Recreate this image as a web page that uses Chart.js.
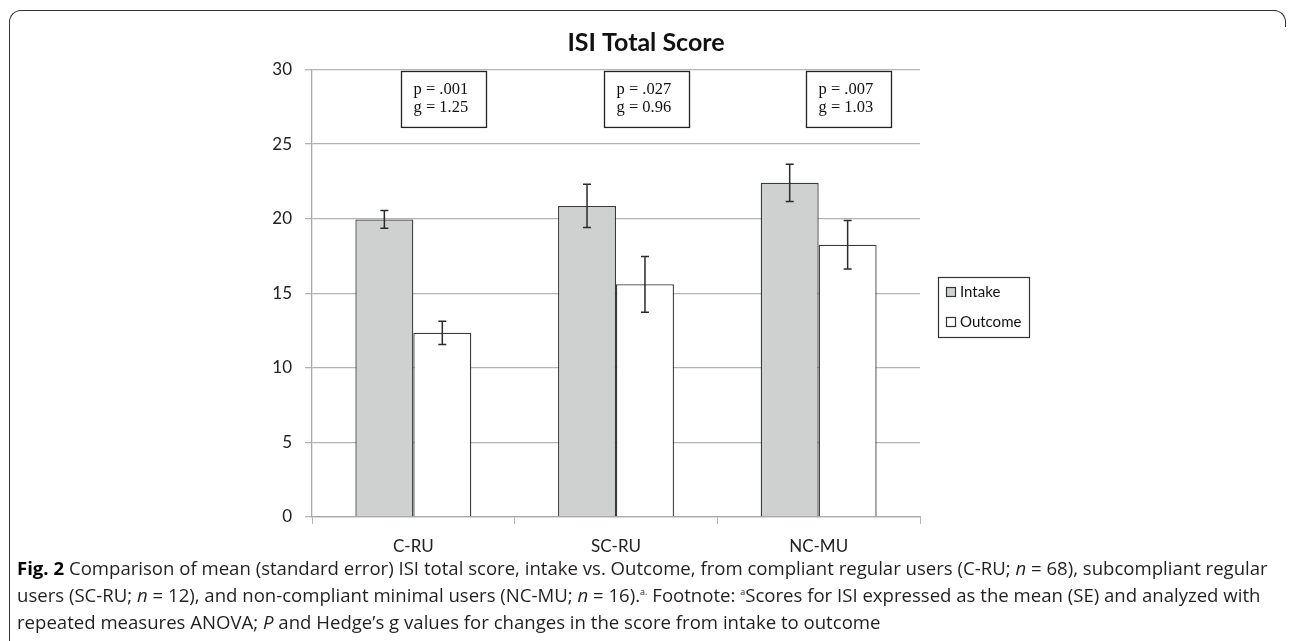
<!DOCTYPE html>
<html>
<head>
<meta charset="utf-8">
<script src="https://cdn.jsdelivr.net/npm/chart.js@4/dist/chart.umd.min.js"></script>
<style>
    html, body {margin: 0; padding: 0; background: #fff;}
    body {width: 1292px; height: 641px; position: relative; overflow: hidden;}
    #frame {position: absolute; left: 9px; top: 10px; width: 1266px; height: 700px;
        border-top: 1.5px solid #333; border-left: 1.5px solid #333; border-top-left-radius: 12px;}
    #corner {position: absolute; left: 1271px; top: 10px; width: 14px; height: 16px;
        border-top: 1.5px solid #333; border-right: 1.5px solid #333; border-top-right-radius: 12px;}
    #chart {position: absolute; left: 0; top: 0;}
    #caption {position: absolute; left: 17px; top: 554px; font-family: "Open Sans", sans-serif;
        font-size: 15.5px; color: #231f20; white-space: nowrap;}
    #caption div {line-height: 27px; height: 27px;}
    #caption b {color: #000;}
    #caption sup {font-size: 9px; line-height: 0;}
</style>
</head>
<body>
<div id="frame"></div>
<div id="corner"></div>
<canvas id="chart" width="1292" height="560"></canvas>
<div id="caption">
    <div id="line1"><b>Fig. 2</b> Comparison of mean (standard error) ISI total score, intake vs. Outcome, from compliant regular users (C-RU; <i>n</i> = 68), subcompliant regular</div>
    <div>users (SC-RU; <i>n</i> = 12), and non-compliant minimal users (NC-MU; <i>n</i> = 16).<sup>a.</sup> Footnote: <sup>a</sup>Scores for ISI expressed as the mean (SE) and analyzed with</div>
    <div>repeated measures ANOVA; <i>P</i> and Hedge’s g values for changes in the score from intake to outcome</div>
</div>
<script>
    const categories = ['C-RU', 'SC-RU', 'NC-MU'];
    const seriesNames = ['Intake', 'Outcome'];
    const intakeValues = [19.95, 20.85, 22.4];
    const intakeErrors = [0.6, 1.45, 1.25];
    const outcomeValues = [12.35, 15.6, 18.25];
    const outcomeErrors = [0.78, 1.87, 1.62];
    const pValues = ['.001', '.027', '.007'];
    const gValues = ['1.25', '0.96', '1.03'];
    const yTicks = [0, 5, 10, 15, 20, 25, 30];

    const INTAKE_FILL = '#cfd1d0';
    const OUTCOME_FILL = '#ffffff';
    const BAR_EDGE = '#3a3a3a';
    const GRID = '#b4b4b4';
    const CHART_FONT = 'Lato, "Open Sans", sans-serif';

    // fit caption width to the reference (first line ends near x=1268)
    const line1 = document.getElementById('line1');
    const cap = document.getElementById('caption');
    const w = line1.scrollWidth;
    if (w > 0) {
        cap.style.fontSize = (15.5 * 1251 / w).toFixed(2) + 'px';
    }

    const errorBars = {
        id: 'errorBars',
        afterDatasetsDraw(chart) {
            const ctx = chart.ctx;
            const y = chart.scales.y;
            const errs = [intakeErrors, outcomeErrors];
            ctx.save();
            ctx.strokeStyle = '#2b2b2b';
            ctx.lineWidth = 1.5;
            chart.data.datasets.forEach((ds, i) => {
                chart.getDatasetMeta(i).data.forEach((bar, j) => {
                    const v = ds.data[j];
                    const top = y.getPixelForValue(v + errs[i][j]);
                    const bot = y.getPixelForValue(v - errs[i][j]);
                    ctx.beginPath();
                    ctx.moveTo(bar.x, top);
                    ctx.lineTo(bar.x, bot);
                    ctx.moveTo(bar.x - 4, top);
                    ctx.lineTo(bar.x + 4, top);
                    ctx.moveTo(bar.x - 4, bot);
                    ctx.lineTo(bar.x + 4, bot);
                    ctx.stroke();
                });
            });
            ctx.restore();
        }
    };

    const statBoxes = {
        id: 'statBoxes',
        afterDraw(chart) {
            const ctx = chart.ctx;
            const x = chart.scales.x;
            const y = chart.scales.y;
            const top = y.getPixelForValue(29.9);
            const bot = y.getPixelForValue(26.15);
            ctx.save();
            categories.forEach((c, i) => {
                const cx = x.getPixelForValue(i) + 30;
                const left = Math.round(cx - 42.5) + 0.5;
                ctx.fillStyle = '#fff';
                ctx.fillRect(left, Math.round(top) + 0.5, 85, bot - top);
                ctx.strokeStyle = '#222';
                ctx.lineWidth = 1.3;
                ctx.strokeRect(left, Math.round(top) + 0.5, 85, bot - top);
                ctx.fillStyle = '#111';
                ctx.font = '16.5px "Liberation Serif", "Times New Roman", serif';
                ctx.textAlign = 'left';
                ctx.textBaseline = 'middle';
                ctx.fillText('p = ' + pValues[i], left + 12, top + 18.5);
                ctx.fillText('g = ' + gValues[i], left + 12, top + 37);
            });
            ctx.restore();
        }
    };

    const boxLegend = {
        id: 'boxLegend',
        afterDraw(chart) {
            const ctx = chart.ctx;
            const fills = [INTAKE_FILL, OUTCOME_FILL];
            ctx.save();
            ctx.strokeStyle = '#333';
            ctx.lineWidth = 1.2;
            ctx.strokeRect(938.5, 277.5, 91, 60);
            ctx.font = '15px ' + CHART_FONT;
            ctx.textAlign = 'left';
            ctx.textBaseline = 'middle';
            seriesNames.forEach((name, i) => {
                const cy = 292 + i * 30;
                ctx.fillStyle = fills[i];
                ctx.fillRect(946.5, cy - 4.5, 9, 9);
                ctx.strokeStyle = '#333';
                ctx.strokeRect(946.5, cy - 4.5, 9, 9);
                ctx.fillStyle = '#111';
                ctx.fillText(name, 960, cy);
            });
            ctx.restore();
        }
    };

    new Chart(document.getElementById('chart'), {
        type: 'bar',
        data: {
            labels: categories,
            datasets: [
                {
                    label: seriesNames[0],
                    data: intakeValues,
                    backgroundColor: INTAKE_FILL,
                    borderColor: BAR_EDGE,
                    borderWidth: 1.3,
                    borderSkipped: 'bottom',
                },
                {
                    label: seriesNames[1],
                    data: outcomeValues,
                    backgroundColor: OUTCOME_FILL,
                    borderColor: BAR_EDGE,
                    borderWidth: 1.3,
                    borderSkipped: 'bottom',
                }
            ]
        },
        options: {
            responsive: false,
            animation: false,
            devicePixelRatio: 1,
            layout: {padding: 0},
            datasets: {
                bar: {categoryPercentage: 0.572, barPercentage: 1.0}
            },
            plugins: {
                legend: {display: false},
                tooltip: {enabled: false},
                title: {
                    display: true,
                    text: 'ISI Total Score',
                    color: '#111',
                    font: {family: CHART_FONT, size: 25, weight: 'bold'},
                    padding: {top: 28, bottom: 11.5},
                }
            },
            scales: {
                x: {
                    afterFit: (s) => { s.height = 43; },
                    grid: {drawOnChartArea: false, drawTicks: true, tickLength: 7, color: GRID, offset: true},
                    border: {color: '#a8a8a8', width: 1.3},
                    ticks: {color: '#222', padding: 12, font: {family: CHART_FONT, size: 17}},
                },
                y: {
                    min: 0,
                    max: 30,
                    afterFit: (s) => { s.width = 312; },
                    afterBuildTicks: (s) => { s.ticks = yTicks.map(v => ({value: v})); },
                    grid: {color: GRID, lineWidth: 1.3, tickLength: 7},
                    border: {color: '#a8a8a8', width: 1.3},
                    ticks: {color: '#222', padding: 13, font: {family: CHART_FONT, size: 17}},
                },
                // empty right-hand space where the legend box sits
                spacer: {
                    type: 'linear',
                    position: 'right',
                    display: true,
                    afterFit: (s) => { s.width = 372; },
                    grid: {display: false},
                    border: {display: false},
                    ticks: {display: false},
                }
            }
        },
        plugins: [errorBars, statBoxes, boxLegend]
    });
</script>
</body>
</html>
